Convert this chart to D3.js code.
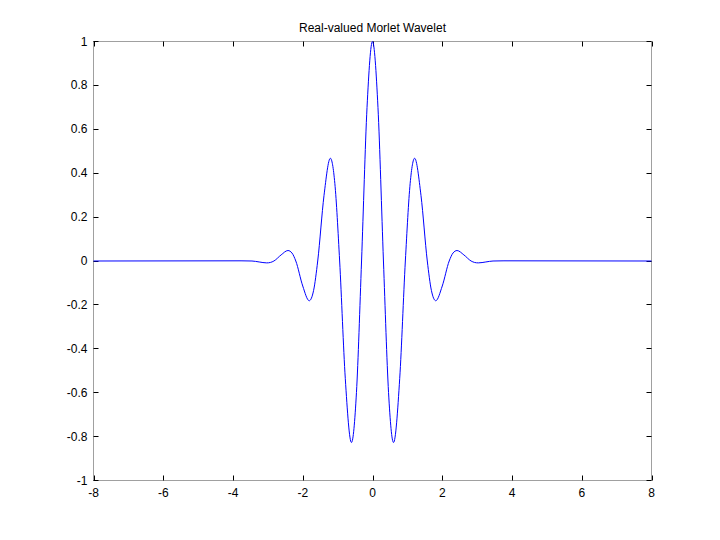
<!DOCTYPE html>
<html><head><meta charset="utf-8">
<script src="https://cdn.jsdelivr.net/npm/d3@7"></script>
<style>body{margin:0;background:#fff}svg{display:block}text{font-family:"Liberation Sans",Arial,sans-serif}</style>
</head><body>
<svg id="c" width="720" height="540"></svg>
<script>
const title = "Real-valued Morlet Wavelet";
const xTicks = [-8,-6,-4,-2,0,2,4,6,8];
const yTicks = [-1,-0.8,-0.6,-0.4,-0.2,0,0.2,0.4,0.6,0.8,1];
const xs = [-8,-3.77,-3.456,-3.25,-3.034,-2.93,-2.827,-2.62,-2.424,-2.31,-2.199,-2.0,-1.814,-1.69,-1.571,-1.39,-1.208,-1.08,-0.942,-0.78,-0.603,-0.46,-0.314,-0.157,0,0.157,0.314,0.46,0.603,0.78,0.942,1.08,1.208,1.39,1.571,1.69,1.814,2.0,2.199,2.31,2.424,2.62,2.827,2.93,3.034,3.25,3.456,3.77,8];
const ys = [0,0.0008,0,-0.0044,-0.0086,-0.0067,0,0.0278,0.0477,0.0366,0,-0.114,-0.181,-0.135,0,0.299,0.468,0.354,0,-0.536,-0.827,-0.599,0,0.699,1,0.699,0,-0.599,-0.827,-0.536,0,0.354,0.468,0.299,0,-0.135,-0.181,-0.114,0,0.0366,0.0477,0.0278,0,-0.0067,-0.0086,-0.0044,0,0.0008,0];

const svg = d3.select("#c");
const L=93.5,R=651.5,T=41.5,B=480.5;
const x = d3.scaleLinear().domain([-8,8]).range([L,R]);
const y = d3.scaleLinear().domain([-1,1]).range([B,T]);

svg.append("rect").attr("x",L).attr("y",T).attr("width",R-L).attr("height",B-T)
  .attr("fill","none").attr("stroke","#a0a0a0").attr("stroke-width",1);

const tl=5;
const g = svg.append("g").attr("stroke","#000").attr("stroke-width",1);
xTicks.forEach(t=>{
  const px=Math.round(x(t))+0.5;
  g.append("line").attr("x1",px).attr("x2",px).attr("y1",B).attr("y2",B-tl);
  g.append("line").attr("x1",px).attr("x2",px).attr("y1",T).attr("y2",T+tl);
});
yTicks.forEach(t=>{
  const py=Math.round(y(t)-0.5)+0.5;
  g.append("line").attr("y1",py).attr("y2",py).attr("x1",L).attr("x2",L+tl);
  g.append("line").attr("y1",py).attr("y2",py).attr("x1",R).attr("x2",R-tl);
});
svg.append("g").selectAll("text").data(xTicks).join("text")
  .attr("x",d=>x(d)).attr("y",B+16).attr("text-anchor","middle")
  .attr("font-size",12).attr("fill","#000").text(d=>d);
svg.append("g").selectAll("text").data(yTicks).join("text")
  .attr("x",L-6).attr("y",d=>y(d)+4).attr("text-anchor","end")
  .attr("font-size",12).attr("fill","#000").text(d=>d);

svg.append("text").attr("x",(L+R)/2).attr("y",T-10).attr("text-anchor","middle")
  .attr("font-size",12).attr("fill","#000").text(title);

const data = xs.map((v,i)=>[v,ys[i]]);
svg.append("path").datum(data)
  .attr("d",d3.line().x(d=>x(d[0])).y(d=>y(d[1])).curve(d3.curveMonotoneX))
  .attr("fill","none").attr("stroke","#0000ff").attr("stroke-width",1);
</script>
</body></html>
